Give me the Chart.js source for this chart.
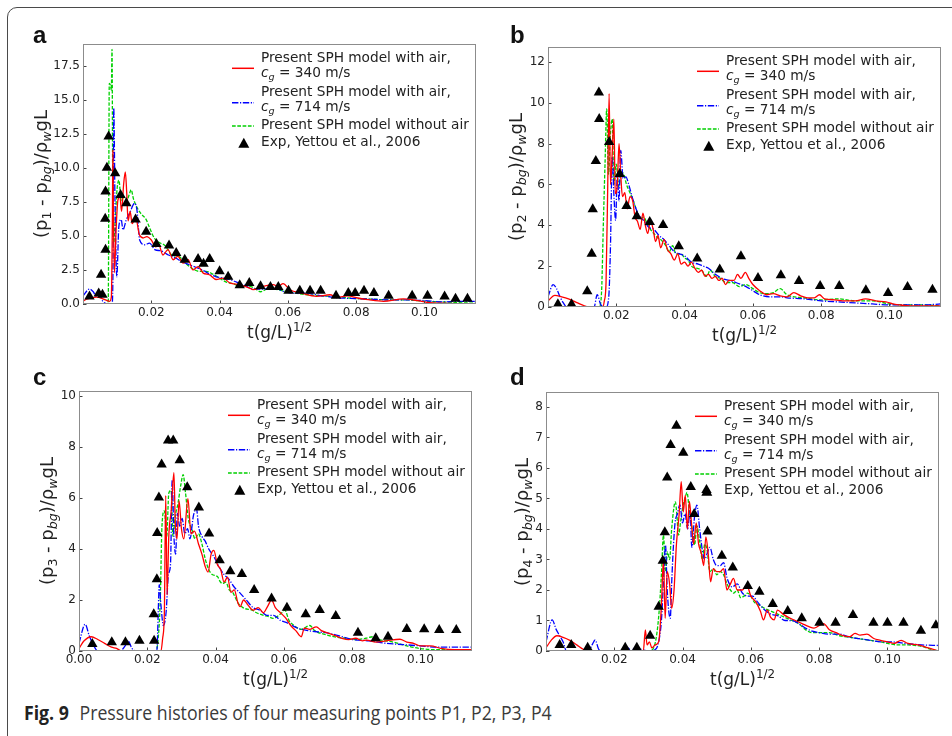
<!DOCTYPE html>
<html>
<head>
<meta charset="utf-8">
<title>Fig. 9 Pressure histories</title>
<script src="https://cdn.jsdelivr.net/npm/chart.js@4.4.0/dist/chart.umd.min.js"></script>
<style>
html, body { margin: 0; padding: 0; background: #fff; width: 952px; height: 736px; overflow: hidden; }
body { position: relative; font-family: "DejaVu Sans", sans-serif; color: #222; }
#frame { position: absolute; left: 7px; top: 7px; width: 1000px; height: 800px; border: 1.5px solid #4a4a4a; border-radius: 10px; }
canvas { position: absolute; }
.letter { position: absolute; font: bold 24px "Liberation Sans", Arial, sans-serif; line-height: 24px; color: #111; }
.ytitle, .xtitle { position: absolute; line-height: 20px; white-space: nowrap; color: #222; }
.ytitle { font-size: 18px; transform: translate(-50%, -50%) rotate(-90deg); }
.xtitle { font-size: 17px; transform: translate(-50%, -50%); }
.leg { position: absolute; font-size: 13.7px; line-height: 16px; white-space: nowrap; color: #222; }
sub { font-size: 70%; vertical-align: -0.28em; line-height: 0; }
sup { font-size: 70%; vertical-align: 0.55em; line-height: 0; }
svg.handles { position: absolute; overflow: visible; }
#caption { position: absolute; left: 24px; top: 703px; font-family: "Open Sans", sans-serif; font-size: 20px; line-height: 20px; white-space: nowrap; color: #3a3a3a; transform: scaleX(0.885); transform-origin: left center; }
#caption b { margin-right: 12px; color: #222; }
</style>
</head>
<body>
<div id="frame"></div>
<div id="caption"><b>Fig. 9</b>Pressure histories of four measuring points P1, P2, P3, P4</div>
<script>
// ---- data: [t(g/L)^1/2, (p - pbg)/rho_w gL] ----

// panel a, P1
const expA = [[0.0019,0.56],[0.0046,0.78],[0.0057,0.68],[0.0053,2.15],[0.0066,3.98],[0.0065,6.26],[0.0066,8.26],[0.0070,10.0],[0.0075,12.3],[0.0094,9.6],[0.0110,8.0],[0.0127,7.4],[0.0154,6.2],[0.0185,5.3],[0.0215,4.4],[0.0252,4.3],[0.0273,3.74],[0.0298,3.25],[0.0337,3.3],[0.0353,2.96],[0.0371,3.3],[0.0400,2.4],[0.0425,2.0],[0.0459,1.38],[0.0487,1.55],[0.0520,1.3],[0.0549,1.25],[0.0572,1.25],[0.0602,0.98],[0.0635,0.98],[0.0665,0.98],[0.0696,0.98],[0.0741,0.61],[0.0777,0.81],[0.0797,0.81],[0.0823,0.98],[0.0852,0.81],[0.0895,0.61],[0.0964,0.61],[0.1009,0.61],[0.1059,0.56],[0.1091,0.39],[0.1126,0.39]];
const redA = [[0,0.2],[0.001,0.35],[0.0024,0.45],[0.004,0.5],[0.0055,0.42],[0.0068,0.28],[0.0078,0.2],[0.0083,0.5],[0.0086,6],[0.00875,11.3],[0.0089,7],[0.0092,2.3],[0.0097,5.5],[0.0102,7.6],[0.0108,7.9],[0.0113,6.8],[0.0119,8.8],[0.0124,9.7],[0.0128,8.2],[0.0132,6.1],[0.0138,6.8],[0.0144,5.9],[0.0154,6.4],[0.0165,5.1],[0.0176,4.85],[0.0187,4.95],[0.02,4.7],[0.0213,4.2],[0.0222,4.35],[0.0234,3.6],[0.0249,4.0],[0.0264,3.25],[0.0278,3.5],[0.0293,3.0],[0.0308,3.25],[0.0322,2.5],[0.0337,2.75],[0.0352,2.27],[0.037,2.15],[0.039,1.8],[0.041,1.9],[0.043,1.55],[0.0459,1.42],[0.0488,1.17],[0.0498,1.05],[0.0528,1.3],[0.0557,1.42],[0.0572,1.3],[0.0586,1.49],[0.0606,1.05],[0.064,0.8],[0.0684,0.56],[0.0723,0.68],[0.0745,0.49],[0.0775,0.6],[0.0805,0.44],[0.0835,0.32],[0.088,0.2],[0.0938,0.37],[0.098,0.25],[0.1007,0.12],[0.107,0.05],[0.115,0.0]];
const blueA = [[0,0.6],[0.0019,1.1],[0.003,0.9],[0.0039,0.56],[0.0048,0.68],[0.0058,0.2],[0.0073,0],[0.0085,0],[0.0088,3],[0.0090,14.4],[0.0094,7],[0.0099,2.0],[0.0105,5.7],[0.0112,6.2],[0.0117,5.45],[0.0127,6.2],[0.0137,6.7],[0.0151,7.4],[0.0158,6.9],[0.0166,4.7],[0.018,4.35],[0.0195,4.47],[0.021,4.0],[0.023,3.9],[0.025,3.6],[0.027,3.4],[0.029,3.1],[0.031,2.9],[0.033,2.7],[0.035,2.5],[0.037,2.2],[0.039,2.0],[0.041,1.9],[0.043,1.8],[0.045,1.6],[0.047,1.4],[0.05,1.1],[0.053,1.1],[0.056,1.2],[0.059,0.9],[0.062,0.8],[0.065,0.8],[0.07,0.6],[0.075,0.45],[0.08,0.4],[0.085,0.35],[0.09,0.3],[0.095,0.3],[0.1,0.25],[0.105,0.15],[0.11,0.2],[0.115,0.2]];
const greenA = [[0,0],[0.0072,0],[0.0074,0.3],[0.0077,16.2],[0.0081,16.0],[0.0083,15.7],[0.0085,18.7],[0.0087,9],[0.0090,4.5],[0.0095,6.5],[0.0100,8.5],[0.0105,9.1],[0.0112,7.6],[0.0120,7.9],[0.0128,7.6],[0.0135,8.0],[0.0141,8.4],[0.0148,7.7],[0.0156,7.2],[0.0165,6.8],[0.0171,6.6],[0.0185,6.2],[0.0195,5.6],[0.021,4.8],[0.0225,4.5],[0.024,4.3],[0.026,3.6],[0.028,3.5],[0.03,3.0],[0.032,2.6],[0.034,2.4],[0.036,2.4],[0.038,2.2],[0.04,1.9],[0.042,1.6],[0.044,1.5],[0.046,1.3],[0.048,1.3],[0.05,1.2],[0.052,0.9],[0.054,1.1],[0.056,1.1],[0.058,1.0],[0.06,0.9],[0.065,0.7],[0.07,0.6],[0.075,0.5],[0.08,0.4],[0.085,0.35],[0.09,0.3],[0.095,0.3],[0.1,0.2],[0.105,0.15],[0.11,0.1],[0.115,0.05]];

// panel b, P2
const expB = [[0.0029,0.13],[0.0069,0.13],[0.0115,0.77],[0.0128,2.61],[0.0131,4.78],[0.0140,7.15],[0.0150,9.21],[0.0149,10.5],[0.0179,8.08],[0.0210,6.51],[0.0230,4.95],[0.0260,4.44],[0.0298,4.16],[0.0337,4.02],[0.0383,2.97],[0.0437,2.37],[0.0503,1.83],[0.0565,2.48],[0.0615,1.42],[0.0682,1.55],[0.0735,1.27],[0.0797,1.03],[0.0853,1.03],[0.0931,0.82],[0.0996,0.69],[0.1053,0.98],[0.1126,0.85]];
const redB = [[0,0.3],[0.002,0.57],[0.004,0.5],[0.006,0.4],[0.008,0.25],[0.01,0.1],[0.012,0],[0.016,0],[0.0165,0.3],[0.017,1.2],[0.0175,6.0],[0.0179,10.45],[0.0183,6.0],[0.0188,7.5],[0.0193,9.2],[0.0197,5.55],[0.0203,6.0],[0.0208,8.0],[0.0213,6.5],[0.0218,5.4],[0.0225,5.6],[0.0232,4.8],[0.024,5.4],[0.0248,5.2],[0.0255,4.4],[0.0262,4.2],[0.027,3.8],[0.0278,4.6],[0.0285,4.0],[0.0292,3.6],[0.03,4.2],[0.0308,3.8],[0.0315,3.2],[0.0322,3.5],[0.033,2.9],[0.034,3.3],[0.035,2.8],[0.036,2.6],[0.037,2.3],[0.038,2.6],[0.039,2.1],[0.04,2.2],[0.041,2.0],[0.042,2.2],[0.043,1.9],[0.044,1.7],[0.045,1.8],[0.046,1.5],[0.047,1.6],[0.048,1.4],[0.049,1.5],[0.05,1.3],[0.051,1.4],[0.052,1.1],[0.053,1.3],[0.0545,1.3],[0.0555,1.6],[0.0565,1.4],[0.0578,1.7],[0.0588,1.4],[0.06,1.1],[0.062,0.8],[0.064,0.6],[0.066,0.65],[0.068,0.55],[0.07,0.5],[0.072,0.7],[0.074,0.55],[0.076,0.45],[0.078,0.45],[0.0795,0.6],[0.081,0.4],[0.084,0.35],[0.087,0.3],[0.09,0.3],[0.093,0.4],[0.096,0.3],[0.099,0.25],[0.101,0.15],[0.103,0.1],[0.106,0.05],[0.11,0.05],[0.115,0.05]];
const blueB = [[0,0.5],[0.0015,1.1],[0.0025,0.9],[0.0035,0.5],[0.0045,0.2],[0.0055,0],[0.0135,0],[0.0144,0.6],[0.0155,0.1],[0.017,0],[0.0178,0.5],[0.0183,3.0],[0.0188,7.35],[0.0193,5.5],[0.0198,4.24],[0.0203,6.5],[0.0208,5.2],[0.0213,7.67],[0.022,6.3],[0.0228,6.37],[0.0238,5.9],[0.0248,5.3],[0.0258,4.8],[0.027,4.4],[0.0282,4.2],[0.0295,3.9],[0.031,3.8],[0.0325,3.5],[0.034,3.3],[0.0355,3.0],[0.037,2.7],[0.0385,2.6],[0.04,2.5],[0.042,2.2],[0.044,2.1],[0.0455,2.0],[0.047,1.9],[0.049,1.6],[0.051,1.4],[0.053,1.3],[0.055,1.2],[0.058,1.0],[0.06,0.8],[0.062,0.6],[0.065,0.5],[0.068,0.5],[0.07,0.45],[0.075,0.4],[0.08,0.3],[0.085,0.25],[0.09,0.2],[0.095,0.15],[0.1,0.1],[0.105,0.1],[0.11,0.1],[0.115,0.15]];
const greenB = [[0,0],[0.015,0],[0.0157,0.8],[0.0162,4.0],[0.0167,7.0],[0.0172,9.7],[0.0177,6.5],[0.0183,8.5],[0.0188,9.2],[0.0193,6.0],[0.02,7.0],[0.0207,5.9],[0.0215,6.6],[0.0222,6.5],[0.023,6.0],[0.024,5.6],[0.025,5.2],[0.026,4.7],[0.027,4.3],[0.028,4.4],[0.029,4.1],[0.03,3.8],[0.031,3.6],[0.032,3.4],[0.033,3.3],[0.0345,3.0],[0.0355,2.7],[0.0365,3.0],[0.0375,2.6],[0.039,2.6],[0.04,2.4],[0.041,2.3],[0.042,2.0],[0.0435,1.9],[0.045,1.8],[0.0465,1.5],[0.0475,1.8],[0.049,1.5],[0.0505,1.4],[0.052,1.2],[0.054,1.2],[0.056,1.0],[0.058,1.1],[0.06,0.9],[0.062,0.7],[0.064,0.65],[0.066,0.7],[0.068,0.9],[0.07,0.6],[0.075,0.45],[0.08,0.35],[0.085,0.4],[0.09,0.3],[0.095,0.3],[0.1,0.15],[0.105,0.1],[0.11,0.1],[0.115,0.05]];

// panel c, P3
const expC = [[0.0039,0.27],[0.0096,0.34],[0.0136,0.34],[0.0177,0.4],[0.0220,0.4],[0.0219,1.44],[0.0228,2.81],[0.0229,4.63],[0.0234,6.02],[0.0242,7.32],[0.0261,8.26],[0.0276,8.26],[0.0295,7.48],[0.0317,6.42],[0.0351,5.63],[0.0381,4.61],[0.0412,3.56],[0.0443,3.13],[0.0477,3.02],[0.0513,2.39],[0.0564,2.06],[0.0609,1.7],[0.0664,1.44],[0.0705,1.61],[0.0752,1.37],[0.0817,0.72],[0.0869,0.5],[0.0905,0.56],[0.0960,0.86],[0.1011,0.85],[0.1055,0.82],[0.1105,0.82]];
const redC = [[0,0.1],[0.0015,0.4],[0.0036,0.56],[0.0055,0.45],[0.0075,0.3],[0.0095,0.15],[0.011,0.1],[0.0125,0],[0.024,0],[0.0245,0.5],[0.025,1.5],[0.0254,6.1],[0.0258,2.2],[0.0263,4.5],[0.027,5.5],[0.0278,7.0],[0.0282,5.0],[0.0287,4.4],[0.0293,5.9],[0.03,4.8],[0.0307,4.4],[0.0319,5.98],[0.0328,4.6],[0.0338,4.7],[0.035,4.2],[0.036,3.8],[0.037,3.3],[0.0378,3.1],[0.0387,3.8],[0.0395,3.95],[0.0405,3.4],[0.0415,3.2],[0.0425,2.7],[0.0435,2.9],[0.0445,2.3],[0.0455,2.4],[0.0465,1.9],[0.0472,1.74],[0.0482,2.0],[0.0495,1.8],[0.051,1.6],[0.0525,1.7],[0.054,1.5],[0.0552,1.74],[0.0564,2.0],[0.0575,1.7],[0.059,1.5],[0.0605,1.3],[0.062,1.0],[0.0635,0.8],[0.0651,0.56],[0.066,0.9],[0.0675,0.85],[0.0695,0.95],[0.071,0.8],[0.073,0.7],[0.075,0.6],[0.077,0.5],[0.079,0.45],[0.081,0.5],[0.083,0.4],[0.0842,0.43],[0.087,0.35],[0.09,0.4],[0.094,0.46],[0.096,0.35],[0.098,0.3],[0.1,0.2],[0.103,0.2],[0.106,0.1],[0.11,0.05],[0.115,0.05]];
const blueC = [[0,0.3],[0.0018,1.05],[0.003,0.6],[0.004,0.3],[0.0055,0],[0.012,0],[0.0135,0.2],[0.0144,0.4],[0.0155,0.1],[0.017,0],[0.0228,0],[0.0232,1.5],[0.0235,2.6],[0.024,1.8],[0.0247,1.0],[0.0255,1.5],[0.0262,3.0],[0.0268,3.4],[0.0273,6.7],[0.0278,4.5],[0.0283,3.8],[0.0288,5.4],[0.0295,4.9],[0.0302,5.2],[0.031,4.6],[0.0318,4.8],[0.0325,4.4],[0.0335,5.3],[0.0344,5.59],[0.035,4.9],[0.036,4.5],[0.037,4.3],[0.038,4.0],[0.0395,3.7],[0.041,3.3],[0.0425,3.0],[0.044,2.8],[0.0455,2.5],[0.047,2.3],[0.049,2.0],[0.051,1.7],[0.053,1.6],[0.055,1.4],[0.057,1.4],[0.059,1.2],[0.061,1.1],[0.064,0.9],[0.067,0.8],[0.07,0.75],[0.073,0.7],[0.076,0.6],[0.08,0.45],[0.085,0.4],[0.09,0.3],[0.095,0.25],[0.1,0.2],[0.105,0.15],[0.11,0.15],[0.115,0.15]];
const greenC = [[0,0],[0.0225,0],[0.0232,0.5],[0.0238,2.0],[0.0243,4.9],[0.025,5.5],[0.0257,4.5],[0.0263,6.2],[0.027,6.3],[0.0275,4.5],[0.0282,5.3],[0.029,5.8],[0.0298,6.5],[0.0305,6.92],[0.0312,6.2],[0.032,5.2],[0.033,4.8],[0.034,4.4],[0.035,4.6],[0.036,4.2],[0.037,3.6],[0.038,3.2],[0.039,3.0],[0.0407,2.9],[0.041,2.8],[0.042,2.65],[0.043,2.7],[0.044,2.4],[0.045,2.3],[0.0465,1.9],[0.048,1.7],[0.0507,1.6],[0.052,1.5],[0.054,1.4],[0.0555,1.35],[0.0568,1.28],[0.059,1.45],[0.0603,1.6],[0.0615,1.2],[0.063,1.0],[0.065,0.85],[0.0676,1.0],[0.069,0.8],[0.072,0.65],[0.075,0.55],[0.078,0.5],[0.081,0.45],[0.084,0.5],[0.0861,0.56],[0.088,0.45],[0.092,0.35],[0.096,0.2],[0.0998,0.1],[0.105,0.05],[0.11,0.05],[0.115,0.05]];

// panel d, P4
const expD = [[0.0040,0.2],[0.0074,0.2],[0.0122,0.11],[0.0232,0.11],[0.0266,0.11],[0.0305,0.5],[0.0330,1.45],[0.0342,2.96],[0.0348,3.89],[0.0355,5.69],[0.0365,6.75],[0.0382,7.38],[0.0402,6.5],[0.0424,5.38],[0.0434,4.49],[0.0470,5.28],[0.0473,3.92],[0.0515,3.12],[0.0547,2.74],[0.0591,2.13],[0.0625,1.94],[0.0664,1.54],[0.0708,1.31],[0.0749,1.07],[0.0801,0.93],[0.0848,0.93],[0.0899,1.18],[0.0959,0.93],[0.1000,0.93],[0.1047,0.93],[0.1098,0.66],[0.1142,0.84]];
const redD = [[0,0.1],[0.0015,0.35],[0.0032,0.5],[0.005,0.45],[0.007,0.35],[0.009,0.2],[0.011,0.05],[0.0125,0],[0.0285,0],[0.0291,0.69],[0.0296,0.2],[0.0303,0.3],[0.031,0.1],[0.032,0.2],[0.033,0.3],[0.0338,1.5],[0.0344,3.0],[0.0349,1.07],[0.0355,2.6],[0.0362,2.2],[0.0368,1.4],[0.0375,2.0],[0.0382,3.5],[0.039,4.5],[0.0396,5.55],[0.0402,4.56],[0.0408,5.1],[0.0414,4.0],[0.042,4.9],[0.0426,4.2],[0.0432,3.5],[0.044,4.2],[0.0447,3.5],[0.0455,3.2],[0.0462,2.8],[0.0468,3.74],[0.0475,3.2],[0.0482,2.27],[0.049,2.7],[0.05,2.6],[0.051,2.6],[0.052,2.7],[0.053,2.0],[0.054,2.2],[0.0549,2.38],[0.056,2.0],[0.0575,2.0],[0.0588,2.16],[0.06,1.8],[0.0615,1.6],[0.0628,1.3],[0.0637,1.02],[0.0648,1.34],[0.0658,1.1],[0.0668,1.02],[0.0678,1.34],[0.0695,1.2],[0.071,1.1],[0.073,1.0],[0.075,0.9],[0.077,0.8],[0.0785,0.75],[0.0813,0.9],[0.083,0.7],[0.085,0.6],[0.087,0.5],[0.089,0.47],[0.0905,0.58],[0.092,0.52],[0.094,0.55],[0.096,0.41],[0.098,0.35],[0.1,0.3],[0.102,0.25],[0.104,0.35],[0.106,0.25],[0.109,0.2],[0.112,0.1],[0.115,0]];
const blueD = [[0,0.3],[0.0018,1.02],[0.003,0.7],[0.004,0.5],[0.005,0.3],[0.006,0],[0.0125,0],[0.0135,0.2],[0.0144,0.36],[0.0155,0.05],[0.017,0],[0.023,0],[0.024,0.1],[0.025,0],[0.026,0.1],[0.03,0],[0.032,0.05],[0.033,0.3],[0.0338,1.0],[0.0345,2.5],[0.035,3.47],[0.0355,2.0],[0.0364,1.07],[0.0368,2.2],[0.0372,3.2],[0.0378,4.2],[0.0385,4.5],[0.0392,4.8],[0.04,4.2],[0.0407,4.5],[0.0415,4.0],[0.0422,4.6],[0.0427,3.4],[0.0435,4.4],[0.0442,4.78],[0.045,4.0],[0.0458,3.3],[0.0465,3.0],[0.0472,3.2],[0.048,3.4],[0.049,3.0],[0.05,2.8],[0.051,2.8],[0.052,2.9],[0.053,2.4],[0.0545,2.1],[0.056,2.2],[0.0575,1.9],[0.059,1.8],[0.0605,1.8],[0.062,1.6],[0.064,1.35],[0.066,1.2],[0.068,1.15],[0.07,1.0],[0.072,1.0],[0.074,0.9],[0.076,0.75],[0.078,0.65],[0.08,0.6],[0.083,0.55],[0.086,0.55],[0.089,0.45],[0.092,0.4],[0.095,0.35],[0.098,0.3],[0.101,0.3],[0.105,0.25],[0.11,0.2],[0.115,0.18]];
const greenD = [[0,0],[0.03,0],[0.0315,0.1],[0.0325,0.6],[0.0332,1.4],[0.0338,2.5],[0.0344,3.8],[0.035,2.6],[0.0356,3.25],[0.0362,3.0],[0.0368,4.0],[0.0379,4.89],[0.0383,4.5],[0.0388,3.8],[0.0395,4.3],[0.0402,4.8],[0.0407,5.0],[0.0413,5.2],[0.042,4.56],[0.0428,4.0],[0.0435,3.47],[0.0442,4.1],[0.045,3.6],[0.0458,3.0],[0.0465,3.5],[0.0472,3.3],[0.048,2.6],[0.049,2.7],[0.05,2.5],[0.051,2.6],[0.052,2.5],[0.053,2.2],[0.054,2.0],[0.055,1.9],[0.056,2.0],[0.057,1.75],[0.058,1.8],[0.059,1.9],[0.06,1.8],[0.061,1.6],[0.0625,1.5],[0.064,1.4],[0.066,1.3],[0.068,1.2],[0.07,1.1],[0.072,1.0],[0.074,0.9],[0.076,0.7],[0.078,0.6],[0.08,0.6],[0.083,0.6],[0.086,0.5],[0.089,0.45],[0.092,0.4],[0.095,0.35],[0.098,0.3],[0.1,0.25],[0.103,0.2],[0.106,0.2],[0.11,0.15],[0.113,0.05],[0.115,0]];

// tick labels
const xTicks = [0.02, 0.04, 0.06, 0.08, 0.10];
const xTicksC = [0.00, 0.02, 0.04, 0.06, 0.08, 0.10];
const yTicksA = [0, 2.5, 5, 7.5, 10, 12.5, 15, 17.5];
const yTicksB = [0, 2, 4, 6, 8, 10, 12];
const yTicksC = [0, 2, 4, 6, 8, 10];
const yTicksD = [0, 1, 2, 3, 4, 5, 6, 7, 8];

// ---- layout ----
const PAD_L = 60, PAD_T = 15, PAD_R = 15, PAD_B = 25;
const RED = '#ff0000', BLUE = '#0000ff', GREEN = '#00d000';
const DASH_BLUE = [6.4, 1.6, 1.2, 1.6], DASH_GREEN = [3.7, 1.6];

const panels = [
  { letter: 'a', n: 1, box: { L: 83, T: 44, R: 476, B: 304 }, yMax: 19.1, xMin: 0, xTicks: xTicks, yTicks: yTicksA, yDec: 1, yTitleDx: 42,
    exp: expA, red: redA, blue: blueA, green: greenA },
  { letter: 'b', n: 2, box: { L: 548, T: 47, R: 941, B: 307 }, yMax: 12.73, xMin: 0, xTicks: xTicks, yTicks: yTicksB, yDec: 0, yTitleDx: 32,
    exp: expB, red: redB, blue: blueB, green: greenB },
  { letter: 'c', n: 3, box: { L: 79, T: 391, R: 472, B: 651 }, yMax: 10.2, xMin: 0, xTicks: xTicksC, yTicks: yTicksC, yDec: 0, yTitleDx: 32,
    exp: expC, red: redC, blue: blueC, green: greenC },
  { letter: 'd', n: 4, box: { L: 546, T: 392, R: 939, B: 651 }, yMax: 8.49, xMin: 0, xTicks: xTicks, yTicks: yTicksD, yDec: 0, yTitleDx: 24,
    exp: expD, red: redD, blue: blueD, green: greenD }
];

function pts(arr) {
  return arr.map(function (p) { return { x: p[0], y: p[1] }; });
}

function addDiv(cls, html, left, top) {
  const d = document.createElement('div');
  d.className = cls;
  d.innerHTML = html;
  d.style.left = left + 'px';
  d.style.top = top + 'px';
  document.body.appendChild(d);
  return d;
}

// axes box + small inward ticks, like matplotlib
const framePlugin = {
  id: 'frame',
  afterDraw(chart) {
    const ctx = chart.ctx, a = chart.chartArea;
    const xs = chart.scales.x, ys = chart.scales.y;
    ctx.save();
    ctx.strokeStyle = '#444';
    ctx.lineWidth = 1;
    ctx.beginPath();
    xs.ticks.forEach(function (t) {
      const px = Math.round(xs.getPixelForValue(t.value)) + 0.5;
      ctx.moveTo(px, a.bottom); ctx.lineTo(px, a.bottom - 3.5);
    });
    ys.ticks.forEach(function (t) {
      const py = Math.round(ys.getPixelForValue(t.value)) + 0.5;
      ctx.moveTo(a.left, py); ctx.lineTo(a.left + 3.5, py);
    });
    ctx.stroke();
    ctx.strokeStyle = '#8c8c8c';
    ctx.strokeRect(a.left + 0.5, a.top + 0.5, a.width - 1, a.height - 1);
    ctx.restore();
  }
};

function legend(b) {
  const tx = b.L + 178, ty = b.T;
  const rows = [
    [12.5, 'Present SPH model with air,'],
    [27.5, '<i>c<sub>g</sub></i> = 340 m/s'],
    [46.7, 'Present SPH model with air,'],
    [62, '<i>c<sub>g</sub></i> = 714 m/s'],
    [80.3, 'Present SPH model without air'],
    [97, 'Exp, Yettou et al., 2006']
  ];
  rows.forEach(function (r) { addDiv('leg', r[1], tx, ty + r[0] - 8); });
  const svgNS = 'http://www.w3.org/2000/svg';
  const svg = document.createElementNS(svgNS, 'svg');
  svg.setAttribute('class', 'handles');
  svg.setAttribute('width', 30);
  svg.setAttribute('height', 110);
  svg.style.left = (b.L + 145) + 'px';
  svg.style.top = b.T + 'px';
  svg.innerHTML =
    '<line x1="4" x2="26" y1="24.3" y2="24.3" stroke="' + RED + '" stroke-width="1.5"/>' +
    '<line x1="4" x2="26" y1="58.7" y2="58.7" stroke="' + BLUE + '" stroke-width="1.5" stroke-dasharray="' + DASH_BLUE.join(' ') + '"/>' +
    '<line x1="4" x2="26" y1="82" y2="82" stroke="' + GREEN + '" stroke-width="1.5" stroke-dasharray="' + DASH_GREEN.join(' ') + '"/>' +
    '<polygon points="15.8,93.8 10.3,103.8 21.3,103.8" fill="#000"/>';
  document.body.appendChild(svg);
}

function buildPanel(p) {
  const b = p.box;
  const cv = document.createElement('canvas');
  cv.width = (b.R - b.L) + PAD_L + PAD_R;
  cv.height = (b.B - b.T) + PAD_T + PAD_B;
  cv.style.left = (b.L - PAD_L) + 'px';
  cv.style.top = (b.T - PAD_T) + 'px';
  document.body.appendChild(cv);

  const lineDs = function (data, color, dash, order) {
    return {
      data: pts(data), borderColor: color, backgroundColor: color, borderWidth: 1.3,
      borderDash: dash, pointRadius: 0, fill: false, cubicInterpolationMode: 'monotone', order: order
    };
  };

  new Chart(cv, {
    type: 'line',
    data: {
      datasets: [
        { data: pts(p.exp), showLine: false, pointStyle: 'triangle', pointRadius: 6,
          backgroundColor: '#000', borderColor: '#000', borderWidth: 0, order: 0 },
        lineDs(p.red, RED, [], 1),
        lineDs(p.blue, BLUE, DASH_BLUE, 2),
        lineDs(p.green, GREEN, DASH_GREEN, 3)
      ]
    },
    options: {
      responsive: false,
      devicePixelRatio: 1,
      animation: false,
      events: [],
      layout: { padding: { left: 0, top: PAD_T, right: PAD_R, bottom: 0 } },
      plugins: { legend: { display: false }, tooltip: { enabled: false } },
      scales: {
        x: {
          type: 'linear', min: p.xMin, max: 0.1151,
          grid: { display: false, drawTicks: false }, border: { display: false },
          afterBuildTicks: function (s) { s.ticks = p.xTicks.map(function (v) { return { value: v }; }); },
          afterFit: function (s) { s.height = PAD_B; },
          ticks: { autoSkip: false, maxRotation: 0, padding: 2, color: '#222',
            font: { family: 'DejaVu Sans', size: 12 },
            callback: function (v) { return Number(v).toFixed(2); } }
        },
        y: {
          type: 'linear', min: 0, max: p.yMax,
          grid: { display: false, drawTicks: false }, border: { display: false },
          afterBuildTicks: function (s) { s.ticks = p.yTicks.map(function (v) { return { value: v }; }); },
          afterFit: function (s) { s.width = PAD_L; },
          ticks: { autoSkip: false, padding: 3, color: '#222',
            font: { family: 'DejaVu Sans', size: 12 },
            callback: function (v) { return Number(v).toFixed(p.yDec); } }
        }
      }
    },
    plugins: [framePlugin]
  });

  // texts around the axes
  const top = p.n <= 2 ? 23 : 365;
  addDiv('letter', p.letter, p.n % 2 ? 33 : 510, top);
  addDiv('ytitle', '(p<sub>' + p.n + '</sub> - p<sub><i>bg</i></sub>)/ρ<sub><i>w</i></sub>gL', b.L - p.yTitleDx, (b.T + b.B) / 2);
  addDiv('xtitle', 't(g/L)<sup>1/2</sup>', (b.L + b.R) / 2, b.B + 28);
  legend(b);
}

panels.forEach(buildPanel);
</script>
</body>
</html>
